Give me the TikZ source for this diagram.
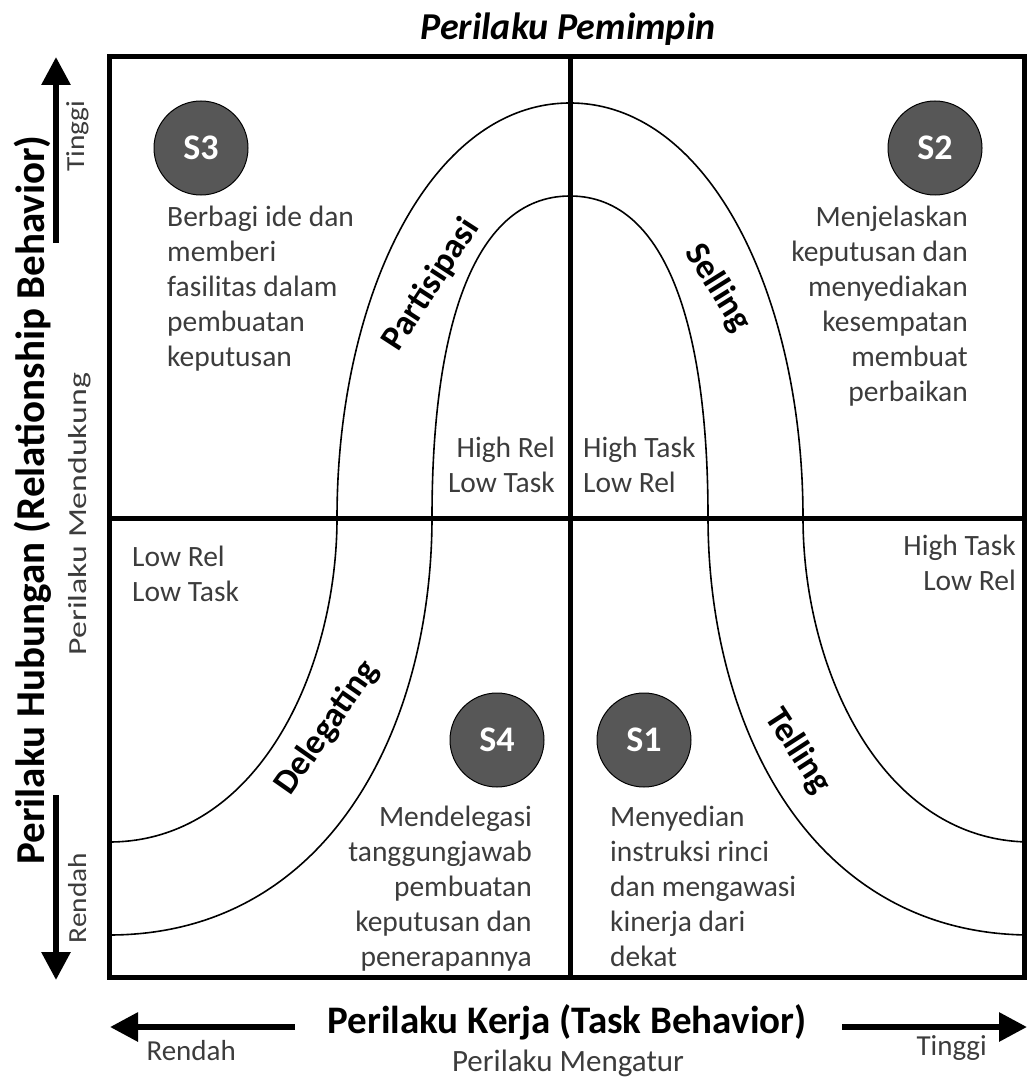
\documentclass[tikz,border=0pt]{standalone}
\usepackage{fontspec}
\setmainfont{Carlito}
\usetikzlibrary{arrows.meta}

\definecolor{StageGrey}{HTML}{575757}
\definecolor{NoteGrey}{HTML}{3C3C3C}

\tikzset{
  frame/.style={line width=5pt},
  bell/.style={line width=1.6pt},
  axisarrow/.style={line width=6pt, -{Triangle[width=28pt,length=28pt]}},
  stage/.style={circle, draw=black, line width=1pt, fill=StageGrey, minimum size=94pt,
    inner sep=0pt, text=white, font=\fontsize{36}{40}\selectfont\bfseries},
  note/.style={text=NoteGrey, inner sep=0pt, font=\fontsize{29.5}{35}\selectfont},
  curvelabel/.style={inner sep=0pt, font=\fontsize{35}{40}\selectfont\bfseries},
  sidelabel/.style={rotate=90, anchor=base, text=NoteGrey, font=\fontsize{26}{30}\selectfont},
}

\begin{document}
\begin{tikzpicture}[x=1pt, y=-1pt]
  \useasboundingbox (0,0) rectangle (1027,1078);

  % bell curves
  \begin{scope}
    \clip (109,57) rectangle (1024,977);
    \draw[bell] (109,842) .. controls (259,842) and (337,668) .. (337,518)
      .. controls (337,298) and (430,103) .. (570,103)
      .. controls (710,103) and (803,298) .. (803,518)
      .. controls (803,668) and (881,842) .. (1031,842);
    \draw[bell] (109,935) .. controls (329,935) and (432,727) .. (432,517)
      .. controls (432,337) and (470,196) .. (570,196)
      .. controls (670,196) and (708,337) .. (708,517)
      .. controls (708,727) and (811,935) .. (1031,935);
  \end{scope}

  % quadrants
  \draw[frame] (570,57) -- (570,977);
  \draw[frame] (109,518) -- (1024,518);
  \draw[frame] (109,57) rectangle (1024,977);

  % stages
  \node[stage] (s3) at (201,148) {S3};
  \node[stage] (s2) at (935,148) {S2};
  \node[stage] (s4) at (497,740) {S4};
  \node[stage] (s1) at (644,740) {S1};

  \node[note, align=left, anchor=north west] (n3) at (167,206)
    {Berbagi ide dan\\memberi\\fasilitas dalam\\pembuatan\\keputusan};
  \node[note, align=right, anchor=north east] (n2) at (968,206)
    {Menjelaskan\\keputusan dan\\menyediakan\\kesempatan\\membuat\\perbaikan};
  \node[note, align=right, anchor=north east] (n4) at (532,806)
    {Mendelegasi\\tanggungjawab\\pembuatan\\keputusan dan\\penerapannya};
  \node[note, align=left, anchor=north west] (n1) at (610,806)
    {Menyedian\\instruksi rinci\\dan mengawasi\\kinerja dari\\dekat};

  \node[note, align=right, anchor=north east] (hrlt) at (555,437) {High Rel\\Low Task};
  \node[note, align=left, anchor=north west] (htlr) at (583,437) {High Task\\Low Rel};
  \node[note, align=left, anchor=north west] (lrlt) at (132,546) {Low Rel\\Low Task};
  \node[note, align=right, anchor=north east] (htlr2) at (1016,535) {High Task\\Low Rel};

  % styles along the curves
  \node[curvelabel, rotate=57] (partisipasi) at (431,285) {Partisipasi};
  \node[curvelabel, rotate=-58] (selling) at (718,288) {Selling};
  \node[curvelabel, rotate=55] (delegating) at (327,728) {Delegating};
  \node[curvelabel, rotate=-57] (telling) at (798,751) {Telling};

  % axes
  \node[anchor=base, font=\fontsize{38}{42}\selectfont\bfseries\itshape] (title) at (568,40) {Perilaku Pemimpin};
  \node[anchor=base, font=\fontsize{39}{44}\selectfont\bfseries] (taskx) at (567,1033) {Perilaku Kerja (Task Behavior)};
  \node[anchor=base, font=\fontsize{31}{36}\selectfont, text=NoteGrey] (taskx2) at (568,1071) {Perilaku Mengatur};
  \node[anchor=base west, font=\fontsize{29}{32}\selectfont, text=NoteGrey] (lowx) at (143,1060) {Rendah};
  \node[anchor=base west, font=\fontsize{29}{32}\selectfont, text=NoteGrey] (highx) at (913,1055) {Tinggi};

  \node[rotate=90, anchor=base, font=\fontsize{41}{46}\selectfont\bfseries] (rely) at (44,500) {Perilaku Hubungan (Relationship Behavior)};
  \node[sidelabel] (rely2) at (86,514) {\scalebox{1.3}[1]{Perilaku Mendukung}};
  \node[sidelabel] (highy) at (84,136) {\scalebox{1.13}[1]{Tinggi}};
  \node[sidelabel] (lowy) at (86,898) {\scalebox{1.13}[1]{Rendah}};

  \coordinate (lowxa) at (295,1027);
  \coordinate (lowxb) at (110,1027);
  \coordinate (highxa) at (842,1027);
  \coordinate (highxb) at (1027,1027);
  \coordinate (highya) at (56,243);
  \coordinate (highyb) at (56,57);
  \coordinate (lowya) at (56,795);
  \coordinate (lowyb) at (56,980);
  \draw[axisarrow] (lowxa) -- (lowxb);
  \draw[axisarrow] (highxa) -- (highxb);
  \draw[axisarrow] (highya) -- (highyb);
  \draw[axisarrow] (lowya) -- (lowyb);
\end{tikzpicture}
\end{document}
